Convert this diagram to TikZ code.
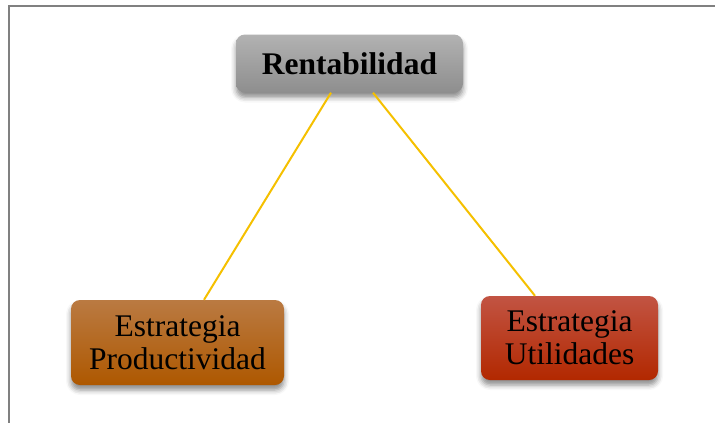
\documentclass[tikz,border=0pt]{standalone}
\usepackage{fontspec}
\setmainfont{Liberation Serif}
\usetikzlibrary{shadows.blur}
\definecolor{framegray}{HTML}{808080}
\definecolor{linegold}{HTML}{F5C000}
\definecolor{grayTop}{HTML}{B2B2B2}
\definecolor{grayBot}{HTML}{8E8E8E}
\definecolor{orTop}{HTML}{BA7A42}
\definecolor{orMid}{HTML}{B46510}
\definecolor{orBot}{HTML}{AE5800}
\definecolor{reTop}{HTML}{C25443}
\definecolor{reMid}{HTML}{BA3A14}
\definecolor{reBot}{HTML}{B22800}
\tikzset{
  box/.style={rounded corners=9pt, inner sep=0pt, align=center, text=black,
    font=\fontsize{31.5}{33}\selectfont,
    blur shadow={shadow xshift=0pt, shadow yshift=-5pt, shadow blur radius=5pt, shadow opacity=45}},
  conn/.style={linegold, line width=2pt}
}
\begin{document}
\begin{tikzpicture}[x=1pt,y=-1pt]
\useasboundingbox (0,0) rectangle (715,423);
\draw[framegray, line width=2pt] (715,6) -- (9,6) -- (9,423);
\node[box, top color=grayTop, bottom color=grayBot, minimum width=227pt, minimum height=58pt,
  font=\fontsize{31.5}{33}\selectfont\bfseries] (r) at (349.5,63.5) {Rentabilidad};
\node[box, top color=orTop, middle color=orMid, bottom color=orBot, minimum width=213pt, minimum height=85pt] (p) at (177.5,342.5) {Estrategia\\Productividad};
\node[box, top color=reTop, middle color=reMid, bottom color=reBot, minimum width=177pt, minimum height=84pt] (u) at (569.5,338) {Estrategia\\Utilidades};
\draw[conn] ([xshift=-18.5pt]r.south) -- ([xshift=26.5pt]p.north);
\draw[conn] ([xshift=23.5pt]r.south) -- ([xshift=-34.5pt]u.north);
\end{tikzpicture}
\end{document}
